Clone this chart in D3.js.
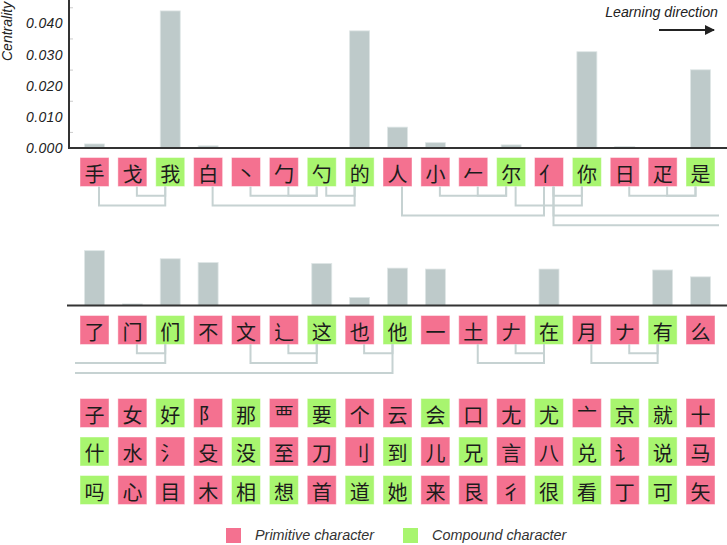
<!DOCTYPE html>
<html>
<head>
<meta charset="utf-8">
<script src="https://d3js.org/d3.v7.min.js"></script>
<style>
  html, body { margin: 0; padding: 0; background: #fff; }
  svg { display: block; }
</style>
</head>
<body>
<svg id="chart" width="727" height="545"></svg>
<script>
// ---------------- DATA ----------------
const row1Chars  = ["手","戈","我","白","丶","勹","勺","的","人","小","𠂉","尔","亻","你","日","疋","是"];
const row1Types  = ["P","P","C","P","P","P","C","C","P","P","P","C","P","C","P","P","C"];
const row1Values = [0.0013,0,0.0440,0.0007,0,0,0,0.0376,0.0067,0.0017,0,0.0010,0,0.0309,0.0005,0,0.0251];
// [source column, target column, level]  ("L" = from left edge, "R" = to right edge)
const row1Links  = [[0,2,2],[1,2,1],[3,7,2],[4,6,1],[5,6,1],[6,7,1],[8,12,3],[9,11,1],[10,11,1],
                    [11,13,2],[12,13,1],[12,"R",3],[12,"R",4],[14,16,1],[15,16,1]];

const row2Chars  = ["了","门","们","不","文","辶","这","也","他","一","土","𠂇","在","月","ナ","有","么"];
const row2Types  = ["P","P","C","P","P","P","C","P","C","P","P","P","C","P","P","C","P"];
const row2Values = [0.0176,0.0005,0.0150,0.0138,0,0,0.0135,0.0026,0.0120,0.0117,0,0,0.0117,0,0,0.0114,0.0092];
const row2Links  = [["L",2,2],["L",8,3],[1,2,1],[4,6,2],[5,6,1],[7,8,1],[10,12,2],[11,12,1],[13,15,2],[14,15,1]];

const gridChars = [
  ["子","女","好","阝","那","覀","要","个","云","会","口","尢","尤","亠","京","就","十"],
  ["什","水","氵","殳","没","至","刀","刂","到","儿","兄","言","八","兑","讠","说","马"],
  ["吗","心","目","木","相","想","首","道","她","来","艮","彳","很","看","丁","可","矢"]
];
const gridTypes = [
  ["P","P","C","P","C","P","C","P","P","C","P","P","C","P","C","C","P"],
  ["C","P","P","P","C","P","P","P","C","P","C","P","P","C","P","C","P"],
  ["C","P","P","P","C","C","P","C","C","P","P","P","C","C","P","C","P"]
];

const yTicks = [0, 0.01, 0.02, 0.03, 0.04];
const yMinorTicks = [0.005, 0.015, 0.025, 0.035, 0.045];
const legendItems = [["P","Primitive character"],["C","Compound character"]];

// ---------------- STYLE ----------------
const colorOf = {P: "#F47190", C: "#A8F56F"};
const barColor = "#BECACA";
const linkColor = "#C6D2D2";
const latin = "'Liberation Sans', Arial, sans-serif";
const cjk = "'Noto Sans CJK SC', sans-serif";

const svg = d3.select("#chart");

const cols = d3.range(17);
const x = d3.scalePoint().domain(cols).range([94.5, 700.5]);
const boxW = 29, boxH = 29, barW = 20;

const y = d3.scaleLinear().domain([0, 0.0475]).range([148, 0]);
const pxPerUnit = y(0) - y(0.01); // same bar scale for row 2

function drawBars(values, baseY) {
  svg.append("g").selectAll("rect").data(values).join("rect")
    .attr("x", (d,i) => x(i) - barW/2)
    .attr("y", d => baseY - d/0.01*pxPerUnit)
    .attr("width", barW)
    .attr("height", d => d/0.01*pxPerUnit)
    .attr("fill", barColor)
    .attr("stroke", "#dfe6e6")
    .attr("stroke-width", 0.8)
    .attr("display", d => d > 0 ? null : "none");
}

function drawBoxes(chars, types, top) {
  const g = svg.append("g");
  const cells = g.selectAll("g").data(chars).join("g")
    .attr("transform", (d,i) => `translate(${x(i) - boxW/2},${top})`);
  cells.append("rect")
    .attr("width", boxW).attr("height", boxH)
    .attr("fill", (d,i) => colorOf[types[i]])
    .attr("stroke", "#ffffff").attr("stroke-opacity", 0.45).attr("stroke-width", 1);
  cells.append("text")
    .attr("x", boxW/2).attr("y", boxH/2 + 1)
    .attr("text-anchor", "middle").attr("dominant-baseline", "central")
    .attr("font-family", cjk).attr("font-size", 20).attr("fill", "#1c1c1c")
    .text(d => d);
}

function drawLinks(links, boxBottom) {
  const g = svg.append("g").attr("fill", "none").attr("stroke", linkColor).attr("stroke-width", 2);
  const levelY = k => boxBottom - 0.5 + 9.8 * k;
  const srcX = s => s === "L" ? 75 : x(s) + 4.5;
  const tgtX = t => t === "R" ? 719 : x(t) - 5;
  links.forEach(([s, t, k]) => {
    const ly = levelY(k);
    const p = d3.path();
    if (s !== "L") { p.moveTo(srcX(s), boxBottom); p.lineTo(srcX(s), ly); }
    else p.moveTo(srcX(s), ly);
    p.lineTo(tgtX(t), ly);
    if (t !== "R") p.lineTo(tgtX(t), boxBottom);
    g.append("path").attr("d", p.toString());
  });
}

// ---------- Row 1 ----------
drawBars(row1Values, 148);
svg.append("line").attr("x1", 69).attr("x2", 727).attr("y1", 148).attr("y2", 148)
  .attr("stroke", "#333").attr("stroke-width", 2);
const yAxis = d3.axisLeft(y).tickValues(yTicks).tickFormat(d3.format(".3f")).tickSize(0).tickPadding(6);
const ag = svg.append("g").attr("transform", "translate(69,0)").call(yAxis);
ag.select(".domain").attr("stroke", "#333").attr("stroke-width", 2).attr("d", "M0,0V149");
ag.selectAll("text").attr("font-family", latin).attr("font-style", "italic")
  .attr("font-size", 14).attr("letter-spacing", 0.4).attr("fill", "#222");
svg.append("g").selectAll("line").data(yMinorTicks).join("line")
  .attr("x1", 70).attr("x2", 73).attr("y1", d => y(d)).attr("y2", d => y(d))
  .attr("stroke", "#cccccc").attr("stroke-width", 1);
svg.append("text").attr("transform", "translate(12,61) rotate(-90)")
  .attr("font-family", latin).attr("font-style", "italic").attr("font-size", 14).attr("fill", "#222")
  .text("Centrality");

drawBoxes(row1Chars, row1Types, 157.5);
drawLinks(row1Links, 186.5);

svg.append("text").attr("x", 718).attr("y", 17).attr("text-anchor", "end")
  .attr("font-family", latin).attr("font-style", "italic").attr("font-size", 14.2).attr("fill", "#222")
  .text("Learning direction");
svg.append("defs").append("marker").attr("id", "arrow")
  .attr("viewBox", "0 0 10 10").attr("refX", 9).attr("refY", 5)
  .attr("markerWidth", 5).attr("markerHeight", 5).attr("orient", "auto")
  .append("path").attr("d", "M0,0L10,5L0,10Z").attr("fill", "#222");
svg.append("line").attr("x1", 659).attr("x2", 714).attr("y1", 30).attr("y2", 30)
  .attr("stroke", "#222").attr("stroke-width", 2).attr("marker-end", "url(#arrow)");

// ---------- Row 2 ----------
drawBars(row2Values, 305.5);
svg.append("line").attr("x1", 67).attr("x2", 727).attr("y1", 305.5).attr("y2", 305.5)
  .attr("stroke", "#333").attr("stroke-width", 2);
drawBoxes(row2Chars, row2Types, 315.5);
drawLinks(row2Links, 344);

// ---------- Grid ----------
const gridTops = [398.5, 437, 475.5];
gridChars.forEach((rowChars, r) => drawBoxes(rowChars, gridTypes[r], gridTops[r]));

// ---------- Legend ----------
const lx = [226, 403];
const lg = svg.append("g").selectAll("g").data(legendItems).join("g")
  .attr("transform", (d,i) => `translate(${lx[i]},528)`);
lg.append("rect").attr("width", 15).attr("height", 15).attr("fill", d => colorOf[d[0]]);
lg.append("text").attr("x", 29).attr("y", 12).attr("font-family", latin).attr("font-style", "italic")
  .attr("font-size", 14.4).attr("fill", "#333").text(d => d[1]);
</script>
</body>
</html>
